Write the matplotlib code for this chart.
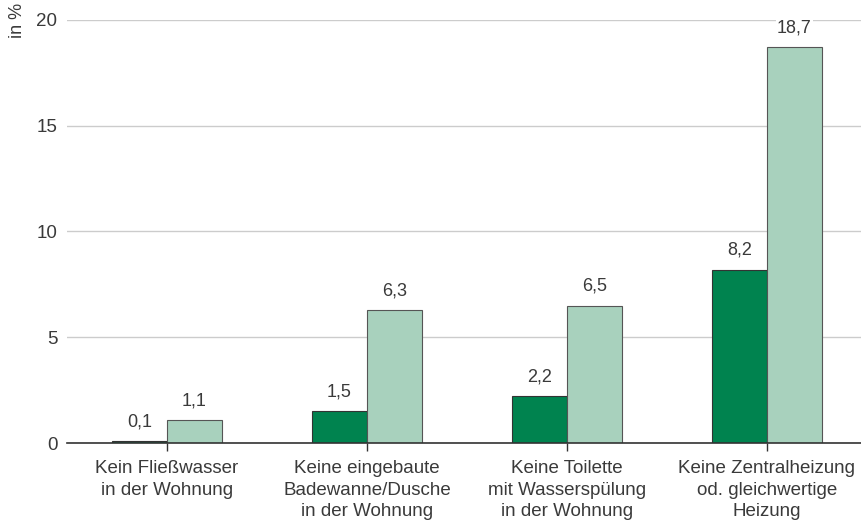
import matplotlib.pyplot as plt
import numpy as np

plt.rcParams["font.family"] = ["Liberation Sans", "DejaVu Sans"]

categories = [
    "Kein Fließwasser\nin der Wohnung",
    "Keine eingebaute\nBadewanne/Dusche\nin der Wohnung",
    "Keine Toilette\nmit Wasserspülung\nin der Wohnung",
    "Keine Zentralheizung\nod. gleichwertige\nHeizung",
]
series_dark = [0.1, 1.5, 2.2, 8.2]
series_light = [1.1, 6.3, 6.5, 18.7]
yticks = [0, 5, 10, 15, 20]

dark = "#00834f"
light = "#a8d1bd"
text_col = "#3a3a3a"

fig = plt.figure(figsize=(8.61, 5.27), dpi=100)
ax = fig.add_axes([67 / 861, 84 / 527, 1 - 67 / 861, (443 - 20) / 527])

x = np.arange(len(categories))
w = 0.275
b1 = ax.bar(x - w / 2, series_dark, w, color=dark, edgecolor="#333333", linewidth=0.8, zorder=3)
b2 = ax.bar(x + w / 2, series_light, w, color=light, edgecolor="#555555", linewidth=0.8, zorder=3)

for rects, vals in ((b1, series_dark), (b2, series_light)):
    for r, v in zip(rects, vals):
        ax.text(r.get_x() + r.get_width() / 2, v + 0.5, f"{v:.1f}".replace(".", ","),
                ha="center", va="bottom", fontsize=13, color=text_col, zorder=4,
                bbox=dict(facecolor="white", edgecolor="none", pad=1))

ax.set_ylim(0, 20)
ax.set_xlim(-0.5, 3.47)
ax.set_yticks(yticks)
ax.set_yticklabels([str(t) for t in yticks], fontsize=13.5, color=text_col)
ax.set_xticks(x)
ax.set_xticklabels(categories, fontsize=13.5, color=text_col, linespacing=1.35)
ax.tick_params(axis="y", length=0, pad=7)
ax.tick_params(axis="x", length=6, width=1, color="#333333", pad=6.5)
ax.yaxis.grid(True, color="#cccccc", linewidth=1, zorder=0)
for s in ("top", "right", "left"):
    ax.spines[s].set_visible(False)
ax.spines["bottom"].set_color("#333333")
ax.spines["bottom"].set_linewidth(1.2)
ax.spines["bottom"].set_zorder(5)

fig.text(17 / 861, 1 - 3 / 527, "in %", rotation=90, ha="center", va="top",
         fontsize=13, color=text_col)

fig.savefig("out.png", dpi=100)
